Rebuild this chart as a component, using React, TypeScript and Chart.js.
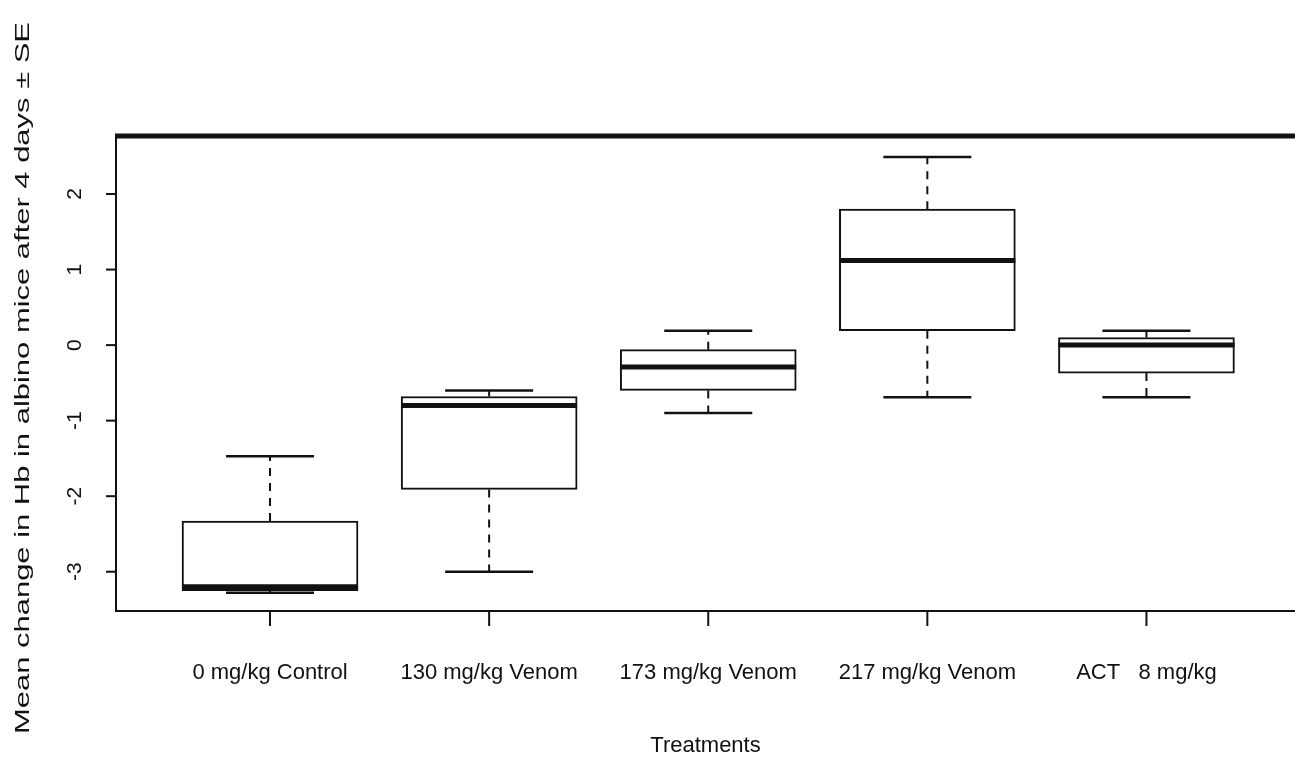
import React, { useEffect, useRef } from 'react';
import { Chart, registerables } from 'chart.js';

Chart.register(...registerables);

// ---- data ----
const categories = ['0 mg/kg Control', '130 mg/kg Venom', '173 mg/kg Venom', '217 mg/kg Venom', 'ACT   8 mg/kg'];
const whiskerLow = [-3.28, -3.0, -0.9, -0.69, -0.69];
const quartile1 = [-3.25, -1.91, -0.6, 0.19, -0.37];
const medians = [-3.2, -0.8, -0.29, 1.12, 0.0];
const quartile3 = [-2.33, -0.68, -0.06, 1.8, 0.1];
const whiskerHigh = [-1.47, -0.6, 0.19, 2.49, 0.19];
const yTicks = [-3, -2, -1, 0, 1, 2];
const xTitle = 'Treatments';
const yTitle = 'Mean change in Hb in albino mice after 4 days \u00b1 SE';

const FONT = '"Liberation Sans", Arial, "DejaVu Sans", sans-serif';
const INK = '#111';

const boxPlugin = {
  id: 'boxExtras',
  afterDatasetsDraw(chart: any) {
    const { ctx } = chart;
    const xs = chart.scales.x;
    const ys = chart.scales.y;
    const meta = chart.getDatasetMeta(0);
    const seg = (x1: number, y1: number, x2: number, y2: number) => {
      ctx.beginPath();
      ctx.moveTo(x1, y1);
      ctx.lineTo(x2, y2);
      ctx.stroke();
    };
    ctx.save();
    ctx.strokeStyle = INK;
    categories.forEach((_, i) => {
      const el = meta.data[i];
      const cx = xs.getPixelForValue(i + 1);
      const half = el.width / 2;
      const capHalf = half / 2;
      const pHi = ys.getPixelForValue(whiskerHigh[i]);
      const pLo = ys.getPixelForValue(whiskerLow[i]);
      const pQ1 = ys.getPixelForValue(quartile1[i]);
      const pQ3 = ys.getPixelForValue(quartile3[i]);
      const pMed = ys.getPixelForValue(medians[i]);
      ctx.lineWidth = 2;
      ctx.setLineDash([8, 7]);
      if (pHi < pQ3) seg(cx, pQ3, cx, pHi);
      if (pLo > pQ1) seg(cx, pQ1, cx, pLo);
      ctx.setLineDash([]);
      ctx.lineWidth = 2.5;
      seg(cx - capHalf, pHi, cx + capHalf, pHi);
      seg(cx - capHalf, pLo, cx + capHalf, pLo);
      ctx.lineWidth = 5;
      seg(cx - half, pMed, cx + half, pMed);
    });
    ctx.restore();
  },
  afterDraw(chart: any) {
    const { ctx, chartArea } = chart;
    const { left, right, top, bottom } = chartArea;
    const xs = chart.scales.x;
    const ys = chart.scales.y;
    ctx.save();
    ctx.strokeStyle = INK;
    ctx.fillStyle = INK;
    // frame
    ctx.lineWidth = 2;
    ctx.beginPath();
    ctx.moveTo(left, top);
    ctx.lineTo(left, bottom);
    ctx.lineTo(right, bottom);
    ctx.stroke();
    ctx.lineWidth = 5;
    ctx.beginPath();
    ctx.moveTo(left - 1, top - 1);
    ctx.lineTo(right, top - 1);
    ctx.stroke();

    // y ticks + labels
    ctx.lineWidth = 2;
    ctx.font = `21px ${FONT}`;
    yTicks.forEach((v) => {
      const py = ys.getPixelForValue(v);
      ctx.beginPath();
      ctx.moveTo(left - 10, py);
      ctx.lineTo(left, py);
      ctx.stroke();
      ctx.save();
      ctx.translate(left - 41, py);
      ctx.rotate(-Math.PI / 2);
      ctx.textAlign = 'center';
      ctx.textBaseline = 'middle';
      ctx.fillText(String(v), 0, 0);
      ctx.restore();
    });

    // x ticks + labels
    ctx.font = `22px ${FONT}`;
    ctx.textAlign = 'center';
    ctx.textBaseline = 'alphabetic';
    categories.forEach((c, i) => {
      const px = xs.getPixelForValue(i + 1);
      ctx.beginPath();
      ctx.moveTo(px, bottom);
      ctx.lineTo(px, bottom + 15);
      ctx.stroke();
      ctx.fillText(c, px, bottom + 68);
    });

    // x title
    ctx.fillText(xTitle, (left + right) / 2, bottom + 141);

    // y title (stretched along its length like the reference)
    ctx.save();
    ctx.font = `21px ${FONT}`;
    const w = ctx.measureText(yTitle).width;
    const target = 712;
    const stretch = target / w;
    ctx.translate(29, (top + bottom) / 2 + 4);
    ctx.rotate(-Math.PI / 2);
    ctx.scale(stretch, 1);
    ctx.textAlign = 'center';
    ctx.textBaseline = 'alphabetic';
    ctx.fillText(yTitle, 0, 0);
    ctx.restore();

    ctx.restore();
  },
};

export default function App() {
  const canvasRef = useRef<HTMLCanvasElement | null>(null);

  useEffect(() => {
    const canvas = canvasRef.current;
    if (!canvas) return;
    const chart = new Chart(canvas, {
      type: 'bar',
      data: {
        datasets: [
          {
            data: categories.map((_, i) => ({ x: i + 1, y: [quartile1[i], quartile3[i]] })) as any,
            backgroundColor: '#ffffff',
            borderColor: INK,
            borderWidth: 2,
            borderSkipped: false,
            barThickness: 176,
          },
        ],
      },
      options: {
        animation: false,
        responsive: false,
        devicePixelRatio: 1,
        layout: { padding: { left: 116, top: 137, right: 0, bottom: 148 } },
        plugins: { legend: { display: false }, tooltip: { enabled: false } },
        events: [],
        scales: {
          x: { type: 'linear', min: 0.297, max: 5.678, offset: false, display: false },
          y: { type: 'linear', min: -3.52, max: 2.755, display: false },
        },
      },
      plugins: [boxPlugin],
    });
    return () => chart.destroy();
  }, []);

  return (
    <div style={{ position: 'fixed', left: 0, top: 0, width: 1295, height: 759, background: '#fff' }}>
      <canvas ref={canvasRef} width={1295} height={759} style={{ display: 'block' }} />
    </div>
  );
}
